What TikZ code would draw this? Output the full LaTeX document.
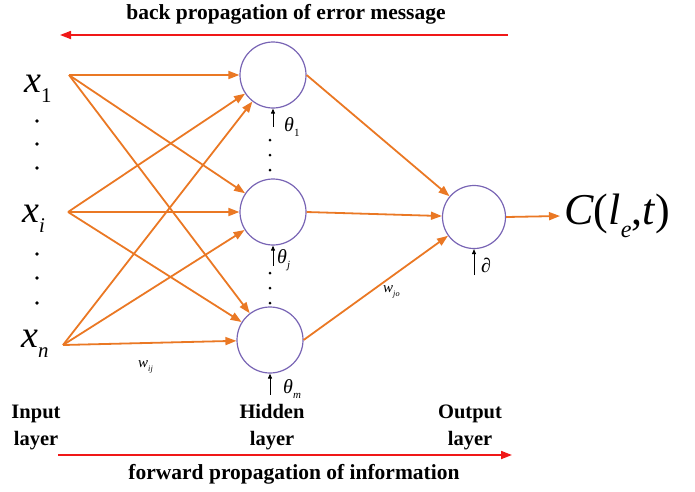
\documentclass[tikz,border=0pt]{standalone}
\usepackage{fontspec}
\usepackage{graphicx}
\setmainfont{Liberation Serif}
\usetikzlibrary{arrows.meta,positioning,calc}
\definecolor{EdgeOrange}{RGB}{234,120,36}
\definecolor{RingPurple}{RGB}{120,100,180}
\definecolor{FlowRed}{RGB}{240,24,24}

% italic symbol with a lowered subscript
\newcommand{\vsub}[2]{\textit{#1}\raisebox{-0.28em}{\scalebox{0.55}{#2}}}

\begin{document}
\begin{tikzpicture}[x=1pt,y=-1pt,
    neuron/.style={circle,draw=RingPurple,line width=1.2pt,minimum size=66pt,inner sep=0pt},
    wire/.style={-{Triangle[length=11pt,width=8pt]},EdgeOrange,line width=1.8pt},
    bias/.style={-{Triangle[length=5pt,width=4pt]},black,line width=0.9pt},
    flow/.style={-{Triangle[length=11pt,width=8pt]},FlowRed,line width=1.7pt},
    invar/.style={inner sep=0pt,anchor=base west,font=\fontsize{38}{40}\selectfont},
    biastxt/.style={inner sep=0pt,anchor=base west,font=\fontsize{20}{22}\selectfont},
    wtxt/.style={inner sep=0pt,anchor=base west,font=\fontsize{15}{17}\selectfont},
    layertxt/.style={align=center,inner sep=0pt,font=\fontsize{20.5}{27}\selectfont\bfseries},
    flowtxt/.style={inner sep=0pt,font=\fontsize{21.5}{23}\selectfont\bfseries},
    dotmark/.style={circle,fill=black,inner sep=0pt,minimum size=3.6pt}
  ]
  \useasboundingbox (0,0) rectangle (695,491);

  % input layer
  \coordinate (in1) at (69,75);
  \coordinate (ini) at (68,212);
  \coordinate (inn) at (63,345);
  \node (x1) [invar] at (24,92) {\vsub{x}{1}};
  \node (xi) [invar] at (22,222) {\vsub{x}{\textit{i}}};
  \node (xn) [invar] at (21,347) {\vsub{x}{\textit{n}}};
  \foreach \y in {121,144,168,254,278,303}
    \node [dotmark] at (37,\y) {};

  % hidden layer and output neuron
  \node (h1) [neuron] at (273,75) {};
  \node (h2) [neuron] at (273,212) {};
  \node (h3) [neuron] at (270,340) {};
  \node (out) [neuron,minimum size=63pt] at (474,217) {};
  \node (cost) [anchor=west,inner sep=4pt,font=\fontsize{44}{46}\selectfont]
    at (560,216) {\textit{C}(\vsub{l}{\textit{e}},\textit{t})};

  % connections
  \foreach \s in {in1,ini,inn}
    \foreach \t in {h1,h2,h3}
      \draw[wire] (\s) -- (\t);
  \foreach \t in {h1,h2,h3}
    \draw[wire] (\t.east) -- (out);
  \draw[wire] (out.east) -- (cost.west);

  % thresholds
  \draw[bias] ($(h1.south)+(0,18)$) -- (h1.south);
  \draw[bias] ($(h2.south)+(0,20)$) -- (h2.south);
  \draw[bias] ($(h3.south)+(0,21)$) -- (h3.south);
  \draw[bias] ($(out.south)+(0,26)$) -- (out.south);
  \node (th1) [biastxt] at (284,131) {\vsub{θ}{1}};
  \node (thj) [biastxt] at (277,263) {\vsub{θ}{\textit{j}}};
  \node (thm) [biastxt] at (283,393) {\vsub{θ}{\textit{m}}};
  \node (dl) [biastxt] at (481,272) {\textit{∂}};
  \foreach \y in {140,155,170,273,288,303}
    \node [dotmark,minimum size=3pt] at (270,\y) {};

  % weights
  \node (wij) [wtxt] at (138,367) {\vsub{w}{\textit{ij}}};
  \node (wjo) [wtxt] at (383,292) {\vsub{w}{\textit{jo}}};

  % layer names
  \node (lin) [layertxt] at (36,427) {Input\\layer};
  \node (lhid) [layertxt] at (272,427) {Hidden\\layer};
  \node (lout) [layertxt] at (470,427) {Output\\layer};

  % propagation directions
  \coordinate (bstart) at (508,35);
  \coordinate (bend) at (60,35);
  \coordinate (fstart) at (58,455);
  \coordinate (fend) at (512,455);
  \draw[flow] (bstart) -- (bend);
  \draw[flow] (fstart) -- (fend);
  \node (btxt) [flowtxt] at (286,14) {back propagation of error message};
  \node (ftxt) [flowtxt] at (294,474) {forward propagation of information};
\end{tikzpicture}
\end{document}
